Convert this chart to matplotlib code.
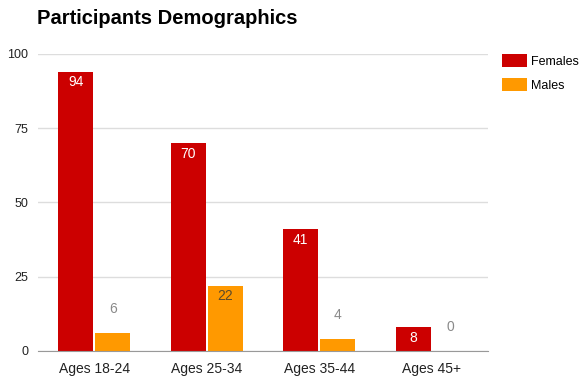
import matplotlib.pyplot as plt
import numpy as np

plt.rcParams["font.family"] = ["Liberation Sans", "DejaVu Sans"]

groups = ["Ages 18-24", "Ages 25-34", "Ages 35-44", "Ages 45+"]
females = [94, 70, 41, 8]
males = [6, 22, 4, 0]
yticks = [0, 25, 50, 75, 100]

red = "#cc0000"
orange = "#ff9900"

fig = plt.figure(figsize=(5.85, 3.83), dpi=100)
ax = fig.add_axes([0.065, 0.0836, 0.769, 0.7755])

x = np.arange(len(groups))
w = 0.31
off = 0.165
bf = ax.bar(x - off, females, w, color=red, label="Females", zorder=3)
bm = ax.bar(x + off, males, w, color=orange, label="Males", zorder=3)

# value labels: inside the bar if it is tall enough, else above it
for bars, vals, inside_col in ((bf, females, "white"), (bm, males, "#5c4a2a")):
    for b, v in zip(bars, vals):
        cx = b.get_x() + b.get_width() / 2
        if v >= 8:
            ax.text(cx, v - 1.2, str(v), ha="center", va="top",
                    color=inside_col, fontsize=10, zorder=4)
        else:
            ax.text(cx, v + 8, str(v), ha="center", va="center",
                    color="#8a8a8a", fontsize=10, zorder=4)

ax.set_xlim(-0.5, 3.5)
ax.set_ylim(0, 100)
ax.set_yticks(yticks)
ax.set_xticks(x)
ax.set_xticklabels(groups, fontsize=10, color="#222222")
ax.tick_params(axis="y", labelsize=9, colors="#222222", length=0, pad=7)
ax.tick_params(axis="x", length=0, pad=8)
ax.grid(axis="y", color="#dddddd", linewidth=1, zorder=0)
for s in ["top", "right", "left"]:
    ax.spines[s].set_visible(False)
ax.spines["bottom"].set_color("#999999")
ax.spines["bottom"].set_zorder(5)

fig.text(0.063, 0.953, "Participants Demographics", fontsize=14.5,
         fontweight="bold", va="center", ha="left", color="black")

ax.legend(loc="upper left", bbox_to_anchor=(1.012, 1.03), frameon=False,
          fontsize=9, handlelength=2.0, handleheight=1.3, handletextpad=0.35,
          labelspacing=0.8, borderaxespad=0.3)

fig.savefig("out.png", dpi=100)
